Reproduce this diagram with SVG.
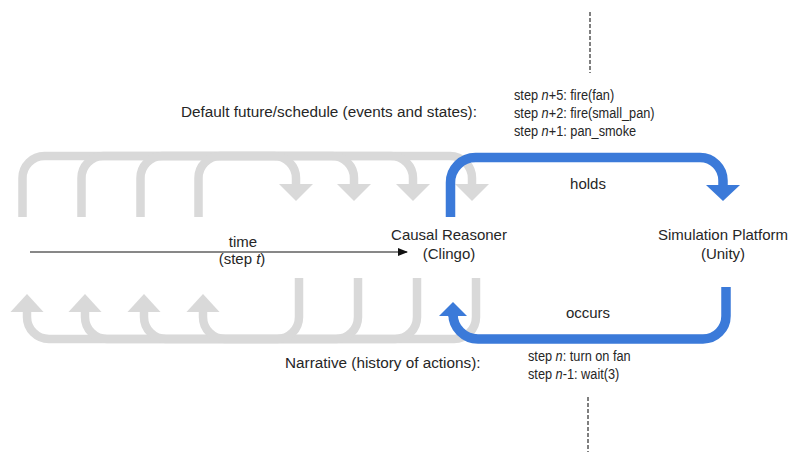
<svg xmlns="http://www.w3.org/2000/svg" width="791" height="455" viewBox="0 0 791 455">
<style>
.t{font-family:"Liberation Sans",Arial,sans-serif;font-size:15px;fill:#262626}
.w{font-family:"Liberation Sans",Arial,sans-serif;font-size:15.3px;fill:#262626}
.s{font-family:"Liberation Sans",Arial,sans-serif;font-size:15px;fill:#262626}
.g{fill:none;stroke:#d9d9d9;stroke-width:8.5}
.gh{fill:#d9d9d9}
.b{fill:none;stroke:#3b7ad9;stroke-width:9.5}
.bh{fill:#3b7ad9}
.d{stroke:#555;stroke-width:1.5;stroke-dasharray:4 2}
</style>
<defs>
<marker id="ah" markerWidth="10" markerHeight="8" refX="9" refY="4" orient="auto" markerUnits="userSpaceOnUse">
<path d="M0,0 L10,4 L0,8 Z" fill="#111"/>
</marker>
</defs>
<g id="connectors">
<g id="future-arrows">
<path class="g" d="M22.5,217 V178 A22,22 0 0 1 44.5,156 H450 A22,22 0 0 1 472,178 V186"/>
<path class="g" d="M81.5,217 V178 A22,22 0 0 1 103.5,156 H391 A22,22 0 0 1 413,178 V186"/>
<path class="g" d="M140.5,217 V178 A22,22 0 0 1 162.5,156 H332 A22,22 0 0 1 354,178 V186"/>
<path class="g" d="M198.5,217 V178 A22,22 0 0 1 220.5,156 H274 A22,22 0 0 1 296,178 V186"/>
<polygon class="gh" points="455,184 489,184 472,201"/>
<polygon class="gh" points="396,184 430,184 413,201"/>
<polygon class="gh" points="337,184 371,184 354,201"/>
<polygon class="gh" points="279,184 313,184 296,201"/>
</g>
<g id="history-arrows">
<path class="g" d="M476,278 V317 A22,22 0 0 1 454,339 H49 A22,22 0 0 1 27,317 V310"/>
<path class="g" d="M417,278 V317 A22,22 0 0 1 395,339 H107 A22,22 0 0 1 85,317 V310"/>
<path class="g" d="M358,278 V317 A22,22 0 0 1 336,339 H166 A22,22 0 0 1 144,317 V310"/>
<path class="g" d="M299,278 V317 A22,22 0 0 1 277,339 H225 A22,22 0 0 1 203,317 V310"/>
<polygon class="gh" points="10.5,312 43.5,312 27,294"/>
<polygon class="gh" points="68.5,312 101.5,312 85,294"/>
<polygon class="gh" points="127.5,312 160.5,312 144,294"/>
<polygon class="gh" points="186.5,312 219.5,312 203,294"/>
</g>
<g id="holds-arrow">
<path class="b" d="M450.5,217 V182.5 A25,25 0 0 1 475.5,157.5 H700 A23,23 0 0 1 723,180.5 V186"/>
<polygon class="bh" points="706,185 740,185 723,201"/>
</g>
<g id="occurs-arrow">
<path class="b" d="M726,287 V316 A23,23 0 0 1 703,339 H478 A25,25 0 0 1 453,314 V317"/>
<polygon class="bh" points="439,316 467,316 453,302"/>
</g>
<line id="time-arrow" x1="30" y1="252" x2="407" y2="252" stroke="#111" stroke-width="1" marker-end="url(#ah)"/>
<line class="d" x1="590" y1="12" x2="590" y2="73"/>
<line class="d" x1="588" y1="397" x2="588" y2="452"/>
</g>
<g id="causal-reasoner">
<text class="t" x="449" y="240" text-anchor="middle">Causal Reasoner</text>
<text class="t" x="449" y="259" text-anchor="middle">(Clingo)</text>
</g>
<g id="simulation-platform">
<text class="t" x="723" y="240" text-anchor="middle">Simulation Platform</text>
<text class="t" x="723" y="259" text-anchor="middle">(Unity)</text>
</g>
<g id="labels">
<text class="t" x="243" y="247" text-anchor="middle">time</text>
<text class="t" x="242" y="264" text-anchor="middle">(step <tspan font-style="italic">t</tspan>)</text>
<text class="t" x="588" y="189" text-anchor="middle">holds</text>
<text class="t" x="588" y="318" text-anchor="middle">occurs</text>
<text class="w" x="181" y="117">Default future/schedule (events and states):</text>
<text class="w" x="285" y="368">Narrative (history of actions):</text>
</g>
<g id="schedule" transform="translate(514,0) scale(0.85,1)">
<text class="s" x="0" y="100">step <tspan font-style="italic">n</tspan>+5: fire(fan)</text>
<text class="s" x="0" y="118">step <tspan font-style="italic">n</tspan>+2: fire(small_pan)</text>
<text class="s" x="0" y="136">step <tspan font-style="italic">n</tspan>+1: pan_smoke</text>
</g>
<g id="narrative" transform="translate(528,0) scale(0.85,1)">
<text class="s" x="0" y="361">step <tspan font-style="italic">n</tspan>: turn on fan</text>
<text class="s" x="0" y="379">step <tspan font-style="italic">n</tspan>-1: wait(3)</text>
</g>
</svg>
